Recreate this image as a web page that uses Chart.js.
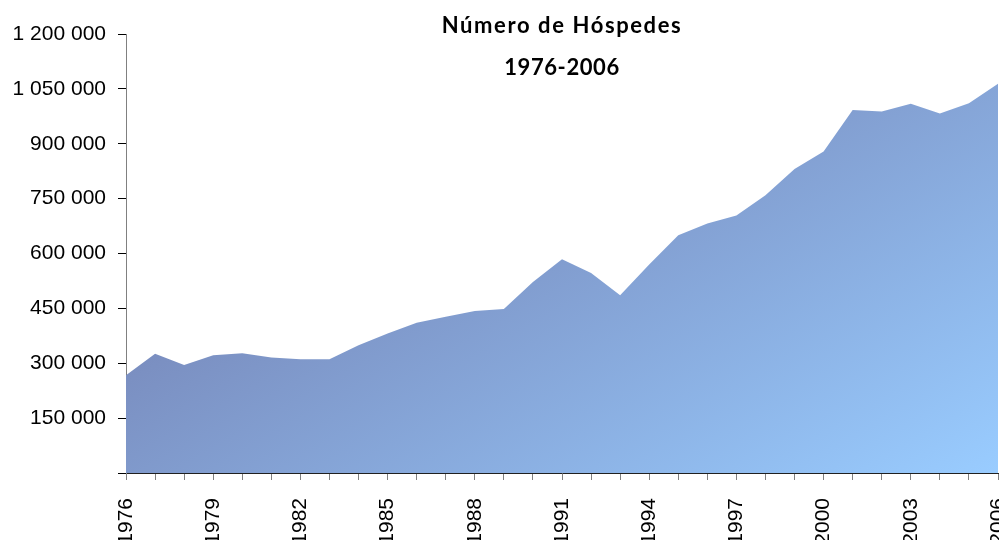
<!DOCTYPE html>
<html>
<head>
<meta charset="utf-8">
<script src="https://cdn.jsdelivr.net/npm/chart.js@4/dist/chart.umd.min.js"></script>
<style>
    html, body { margin: 0; padding: 0; background: #fff; }
    #wrap { position: relative; width: 999px; height: 540px; }
</style>
</head>
<body>
<div id="wrap"><canvas id="chart"></canvas></div>
<script>
"use strict";

var years = [
    '1976', '1977', '1978', '1979', '1980', '1981', '1982', '1983', '1984', '1985',
    '1986', '1987', '1988', '1989', '1990', '1991', '1992', '1993', '1994', '1995',
    '1996', '1997', '1998', '1999', '2000', '2001', '2002', '2003', '2004', '2005', '2006'
];

var guests = [
    267000, 326000, 295000, 322000, 327000, 316000, 311000, 311000, 349000, 381000,
    411000, 427000, 443000, 448000, 522000, 584000, 547000, 486000, 570000, 650000,
    682000, 704000, 759000, 831000, 879000, 992000, 988000, 1009000, 983000, 1011000, 1064000
];

var titleLines = ['Número de Hóspedes', '1976-2006'];

var yMax = 1200000,
    yStep = 150000;

function spaced(v) {
    return String(v).replace(/\B(?=(\d{3})+(?!\d))/g, ' ');
}

// diagonal fill, dark slate top-left to light sky blue bottom-right
function areaFill(context) {
    var area = context.chart.chartArea;
    if (!area) {
        return '#8aaee0';
    }
    var w = area.right - area.left,
        h = area.bottom - area.top;
    var g = context.chart.ctx.createLinearGradient(
        area.left, area.top + 0.75 * h,
        area.left + 0.30 * w, area.top + 1.79 * h);
    g.addColorStop(0, '#7a8ec0');
    g.addColorStop(1, '#99ccff');
    return g;
}

var titlePlugin = {
    id: 'centredTitle',
    afterDraw: function(chart) {
        var ctx = chart.ctx,
            area = chart.chartArea,
            cx = (area.left + area.right) / 2;
        ctx.save();
        ctx.fillStyle = '#000';
        ctx.textAlign = 'center';
        ctx.textBaseline = 'middle';
        ctx.font = 'bold 22px Lato';
        ctx.letterSpacing = '1.6px';
        ctx.fillText(titleLines[0], cx, 26);
        ctx.letterSpacing = '0.6px';
        ctx.fillText(titleLines[1], cx, 68);
        ctx.restore();
    }
};

Chart.defaults.font.family = '"Liberation Sans", Arial, sans-serif';
Chart.defaults.color = '#000';

new Chart(document.getElementById('chart'), {
    type: 'line',
    data: {
        labels: years,
        datasets: [{
            label: 'Hóspedes',
            data: guests,
            fill: 'origin',
            backgroundColor: areaFill,
            borderWidth: 0,
            pointRadius: 0,
            tension: 0
        }]
    },
    options: {
        responsive: true,
        maintainAspectRatio: false,
        animation: false,
        layout: { padding: { top: 34, right: 1, left: 0, bottom: 0 } },
        plugins: {
            legend: { display: false },
            tooltip: { enabled: false }
        },
        scales: {
            x: {
                offset: false,
                grid: { drawOnChartArea: false, tickLength: 7, color: '#808080' },
                border: { color: '#202020', width: 1 },
                ticks: {
                    autoSkip: false,
                    minRotation: 90,
                    maxRotation: 90,
                    padding: 18,
                    font: { size: 21 },
                    callback: function(v, i) {
                        return i % 3 === 0 ? years[i] : '';
                    }
                },
                afterFit: function(scale) {
                    scale.height = 67;
                    scale.paddingLeft = 0;
                    scale.paddingRight = 0;
                }
            },
            y: {
                min: 0,
                max: yMax,
                grid: { drawOnChartArea: false, tickLength: 8, color: '#000' },
                border: { color: '#808080', width: 1 },
                ticks: {
                    stepSize: yStep,
                    padding: 12,
                    font: { size: 21 },
                    callback: function(v) {
                        return v === 0 ? '' : spaced(v);
                    }
                },
                afterFit: function(scale) {
                    scale.width = 126;
                    scale.paddingTop = 0;
                    scale.paddingBottom = 0;
                }
            }
        }
    },
    plugins: [titlePlugin]
});
</script>
</body>
</html>
